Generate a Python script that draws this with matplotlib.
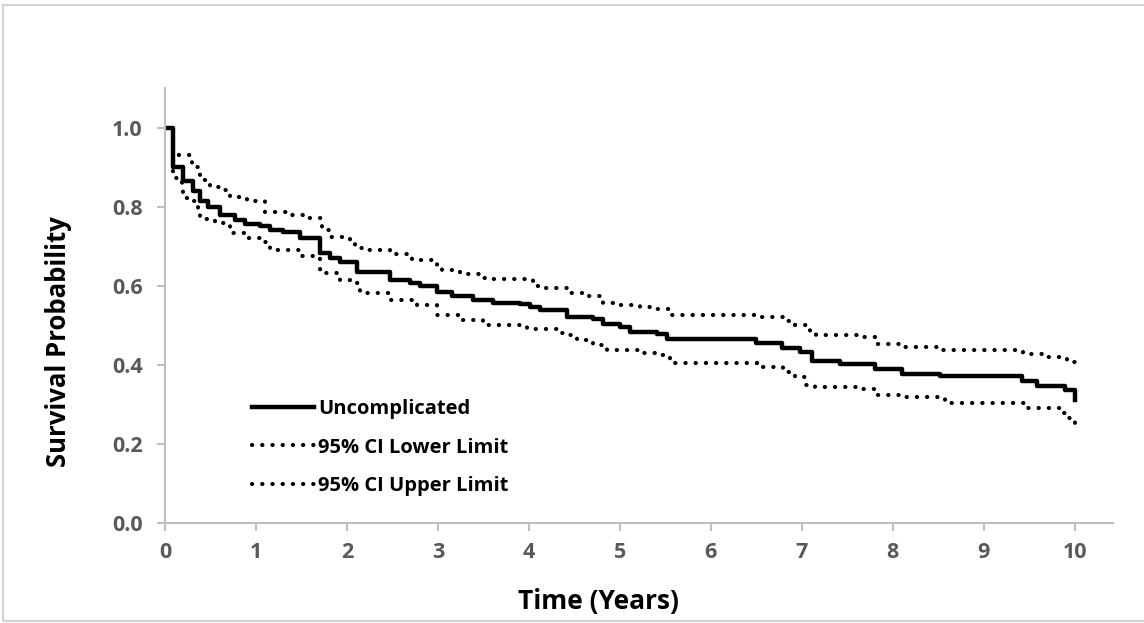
import matplotlib
matplotlib.use('Agg')
import matplotlib.pyplot as plt
from matplotlib.patches import Rectangle

# Kaplan-Meier estimate (uncomplicated)
main_t = [0, 0.09, 0.20, 0.31, 0.38, 0.47, 0.60, 0.77, 0.88, 1.04,
          1.15, 1.30, 1.48, 1.70, 1.81, 1.92, 2.11, 2.47, 2.69, 2.80,
          2.99, 3.16, 3.38, 3.60, 3.90, 4.01, 4.12, 4.42, 4.70, 4.81,
          5.00, 5.11, 5.41, 5.52, 6.50, 6.78, 6.98, 7.11, 7.42, 7.80,
          8.10, 8.52, 9.42, 9.59, 9.89, 10.0]
main_s = [1.0, 0.90, 0.865, 0.84, 0.815, 0.80, 0.78, 0.765, 0.757, 0.75,
          0.74, 0.735, 0.72, 0.683, 0.67, 0.66, 0.635, 0.615, 0.608, 0.60,
          0.583, 0.575, 0.565, 0.557, 0.553, 0.547, 0.539, 0.522, 0.515, 0.504,
          0.495, 0.484, 0.478, 0.466, 0.456, 0.443, 0.432, 0.41, 0.403, 0.39,
          0.377, 0.372, 0.36, 0.347, 0.337, 0.31]

upper_t = [0, 0.09, 0.30, 0.38, 0.49, 0.60, 0.71, 0.90, 1.10, 1.37,
           1.56, 1.73, 1.81, 2.03, 2.09, 2.22, 2.47, 2.71, 2.99, 3.04,
           3.24, 3.49, 3.60, 4.04, 4.15, 4.42, 4.59, 4.81, 4.92, 5.22,
           5.41, 5.55, 6.51, 6.79, 6.92, 7.09, 7.16, 7.67, 7.80, 8.08,
           8.52, 9.43, 9.67, 9.91, 9.98, 10.0]
upper_s = [1.0, 0.93, 0.90, 0.868, 0.85, 0.843, 0.825, 0.813, 0.787, 0.78,
           0.772, 0.742, 0.724, 0.711, 0.696, 0.69, 0.68, 0.666, 0.653, 0.64,
           0.63, 0.62, 0.617, 0.60, 0.595, 0.582, 0.575, 0.557, 0.552, 0.545,
           0.54, 0.527, 0.52, 0.51, 0.50, 0.48, 0.476, 0.47, 0.453, 0.445,
           0.438, 0.428, 0.42, 0.413, 0.408, 0.387]

lower_t = [0, 0.09, 0.19, 0.20, 0.27, 0.36, 0.38, 0.55, 0.71, 0.88,
           1.04, 1.15, 1.48, 1.70, 1.92, 2.03, 2.14, 2.47, 2.77, 2.99,
           3.24, 3.49, 3.98, 4.31, 4.37, 4.53, 4.70, 4.86, 5.22, 5.41,
           5.55, 6.51, 6.79, 6.92, 7.05, 7.14, 7.67, 7.80, 8.08, 8.52,
           8.57, 9.48, 9.87, 9.91, 10.0]
lower_s = [1.0, 0.873, 0.848, 0.823, 0.815, 0.792, 0.77, 0.758, 0.734, 0.72,
           0.711, 0.69, 0.675, 0.633, 0.615, 0.608, 0.582, 0.565, 0.552, 0.527,
           0.514, 0.50, 0.49, 0.48, 0.476, 0.463, 0.45, 0.438, 0.43, 0.425,
           0.404, 0.395, 0.382, 0.37, 0.35, 0.344, 0.339, 0.324, 0.318, 0.314,
           0.304, 0.291, 0.278, 0.266, 0.24]

labels = ['Uncomplicated', '95% CI Lower Limit', '95% CI Upper Limit']
x_ticks = list(range(0, 11))
y_ticks = [0.0, 0.2, 0.4, 0.6, 0.8, 1.0]

FONT = ['Open Sans', 'DejaVu Sans']
plt.rcParams['font.family'] = FONT
plt.rcParams['font.weight'] = 'bold'

W, H = 1144, 623
fig = plt.figure(figsize=(W / 100, H / 100), dpi=100)
ax = fig.add_axes([165 / W, 1 - 523 / H, (1113 - 165) / W, (523 - 88) / H])

# light frame around the whole chart
fig.patches.append(Rectangle((3 / W, 1 - 621 / H), 1.2, 616 / H, transform=fig.transFigure,
                             fill=False, edgecolor='#D3D3D3', lw=1.5))

dots = (0, (0.05, 2.4))
ax.step(main_t, main_s, where='post', color='black', lw=3.2, label=labels[0])
ax.step(lower_t, lower_s, where='post', color='black', lw=3, linestyle=dots,
        dash_capstyle='round', label=labels[1])
ax.step(upper_t, upper_s, where='post', color='black', lw=3, linestyle=dots,
        dash_capstyle='round', label=labels[2])

ax.set_xlim(0, 10.42)
ax.set_ylim(0, 1.1)
ax.set_xticks(x_ticks)
ax.set_yticks(y_ticks)
ax.set_yticklabels([f'{v:.1f}' for v in y_ticks])

for side in ['top', 'right']:
    ax.spines[side].set_visible(False)
for side in ['left', 'bottom']:
    ax.spines[side].set_color('#BFBFBF')
    ax.spines[side].set_linewidth(1.5)

ax.tick_params(axis='both', direction='out', length=6, width=1.5, color='#BFBFBF',
               labelcolor='#595959', labelsize=15.5)
ax.tick_params(axis='x', pad=8)
ax.tick_params(axis='y', pad=10)
for lab in ax.get_xticklabels() + ax.get_yticklabels():
    lab.set_fontweight('bold')

ax.set_xlabel('Time (Years)', fontsize=19, fontweight='bold', color='black', va='center')
ax.xaxis.set_label_coords((598 - 165) / 948, (523 - 602) / 435)
ax.set_ylabel('Survival Probability', fontsize=18.5, fontweight='bold', color='black', va='center')
ax.yaxis.set_label_coords((59 - 165) / 948, (523 - 342) / 435)

leg = ax.legend(loc='upper left', bbox_to_anchor=((252 - 165) / 948, (523 - 399) / 435),
                frameon=False, handlelength=3.1, handletextpad=0.2, labelspacing=0.92,
                borderaxespad=0, borderpad=0,
                prop={'family': FONT, 'weight': 'bold', 'size': 14.5})

fig.savefig('out.png', dpi=100)
